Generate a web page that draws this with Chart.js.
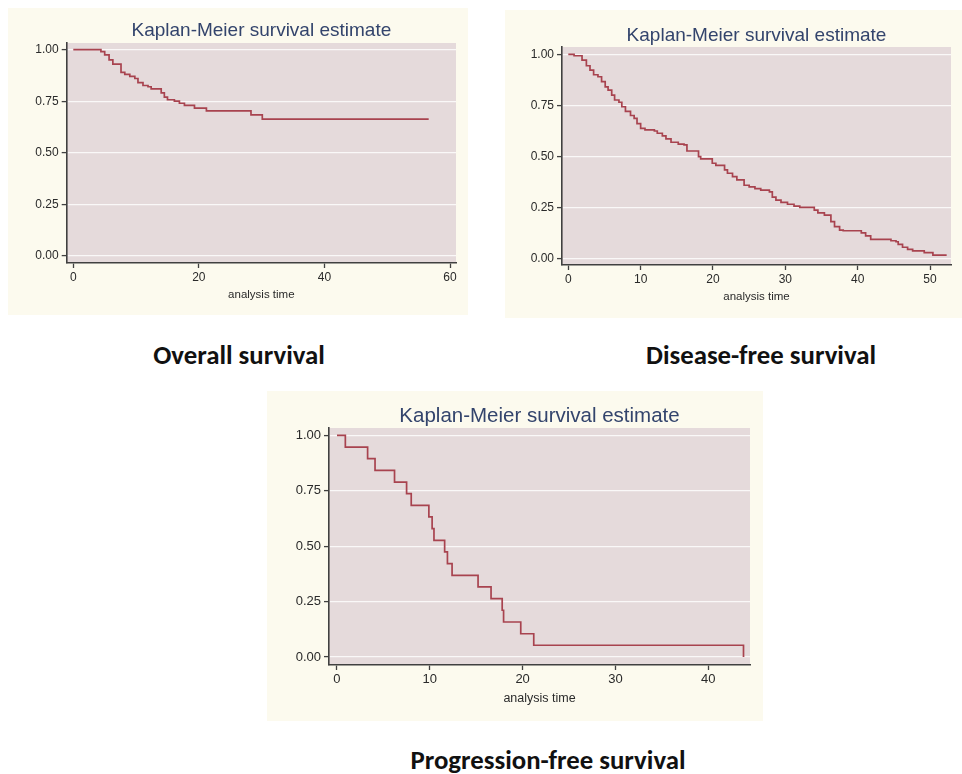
<!DOCTYPE html>
<html><head><meta charset="utf-8">
<script src="https://cdn.jsdelivr.net/npm/chart.js@4.4.1/dist/chart.umd.min.js"></script>
<style>
html,body{margin:0;padding:0;background:#ffffff;}
body{width:962px;height:774px;position:relative;overflow:hidden;}
.panel{position:absolute;background:#fcfaee;}
.panel canvas{display:block;}
.cap{position:absolute;font-family:Carlito,Lato,sans-serif;font-weight:bold;color:#111;white-space:nowrap;line-height:1;transform:translate(-50%,-50%);}
</style></head><body>
<div class="panel" style="left:8px;top:8px;width:460px;height:307px"><canvas id="c1" width="460" height="307"></canvas></div>
<div class="panel" style="left:505px;top:10px;width:457px;height:308px"><canvas id="c2" width="457" height="308"></canvas></div>
<div class="panel" style="left:267px;top:391px;width:496px;height:330px"><canvas id="c3" width="496" height="330"></canvas></div>
<div class="cap" id="cap1" style="left:239px;top:355px;font-size:26.8px"></div>
<div class="cap" id="cap2" style="left:761px;top:355px;font-size:26.8px"></div>
<div class="cap" id="cap3" style="left:548px;top:760px;font-size:26.8px"></div>
<script>
// ---- data ----
const chartTitle = 'Kaplan-Meier survival estimate';
const xAxisTitle = 'analysis time';
const captions = ['Overall survival', 'Disease-free survival', 'Progression-free survival'];
const yTicks = [0, 0.25, 0.5, 0.75, 1];
const osXTicks = [0, 20, 40, 60];
const dfsXTicks = [0, 10, 20, 30, 40, 50];
const pfsXTicks = [0, 10, 20, 30, 40];

const osTime = [0, 4.4, 5.0, 5.7, 6.3, 7.6, 8.2, 9.0, 9.8, 10.3, 11.1, 11.9, 12.4, 14.0, 14.5, 15.0, 16.1, 16.9, 17.7, 19.3, 21.2, 28.3, 30.1, 56.6];
const osSurv = [1.00, 0.99, 0.974, 0.95, 0.93, 0.89, 0.88, 0.87, 0.86, 0.84, 0.826, 0.82, 0.81, 0.79, 0.77, 0.757, 0.75, 0.74, 0.73, 0.716, 0.703, 0.684, 0.663, 0.663];

const dfsTime = [0, 0.8, 1.9, 2.5, 3.0, 3.5, 4.1, 4.6, 5.1, 5.5, 6.0, 6.4, 7.0, 7.4, 7.9, 8.6, 9.1, 9.5, 10.0, 10.6, 11.9, 12.3, 13.0, 13.5, 14.2, 15.2, 16.0, 16.4, 18.0, 18.3, 19.9, 20.4, 21.6, 22.0, 22.7, 23.3, 24.3, 25.0, 25.8, 26.6, 27.8, 28.2, 28.7, 29.4, 30.3, 31.2, 32.0, 34.0, 34.5, 35.4, 36.3, 36.8, 37.5, 38.0, 40.5, 41.1, 41.8, 44.6, 45.3, 45.6, 46.2, 46.9, 47.6, 49.2, 50.4, 52.3];
const dfsSurv = [1.00, 0.993, 0.972, 0.944, 0.923, 0.90, 0.89, 0.866, 0.84, 0.825, 0.80, 0.776, 0.765, 0.743, 0.72, 0.70, 0.686, 0.66, 0.637, 0.63, 0.624, 0.613, 0.60, 0.585, 0.569, 0.56, 0.556, 0.526, 0.498, 0.487, 0.466, 0.456, 0.433, 0.417, 0.40, 0.384, 0.358, 0.35, 0.342, 0.334, 0.326, 0.30, 0.285, 0.274, 0.265, 0.256, 0.25, 0.236, 0.223, 0.212, 0.18, 0.155, 0.138, 0.135, 0.125, 0.11, 0.093, 0.086, 0.081, 0.068, 0.054, 0.044, 0.036, 0.028, 0.015, 0.015];

const pfsTime = [0, 0.9, 3.3, 4.1, 6.2, 7.5, 8.0, 9.9, 10.25, 10.45, 11.6, 11.9, 12.4, 15.2, 16.6, 17.8, 17.95, 19.8, 21.2, 43.8];
const pfsSurv = [1.0, 0.947, 0.895, 0.842, 0.789, 0.737, 0.684, 0.632, 0.579, 0.526, 0.474, 0.421, 0.368, 0.316, 0.263, 0.211, 0.158, 0.105, 0.053, 0.0];

// ---- styles / geometry ----
const FONT = "'Liberation Sans', Arial, sans-serif";
const LINE = '#a8434f';
const AXIS = '#404040';
const TICKC = '#2a2a2a';
const TITLEC = '#33446c';
const GRID = 'rgba(255,255,255,0.8)';
const PLOTBG = '#e5dadb';

const bgPlugin = {
  id: 'plotbg',
  beforeDraw(chart) {
    const a = chart.chartArea, c = chart.ctx;
    c.save(); c.fillStyle = PLOTBG; c.fillRect(a.left, a.top, a.right - a.left, a.bottom - a.top); c.restore();
  }
};

function makeChart(id, times, surv, xTicks, g) {
  const tLH = g.titleSize * 1.2, xLH = g.xTitleSize * 1.2;
  return new Chart(document.getElementById(id), {
    type: 'line',
    data: { datasets: [{ data: times.map((t, i) => ({ x: t, y: surv[i] })), stepped: true, borderColor: LINE, borderWidth: 1.7, pointRadius: 0, fill: false, tension: 0 }] },
    options: {
      responsive: false, animation: false, events: [],
      layout: { padding: { left: 0, right: g.W - g.right, top: 0, bottom: 0 } },
      plugins: {
        legend: { display: false }, tooltip: { enabled: false },
        title: { display: true, text: chartTitle, fullSize: false, color: TITLEC,
          font: { family: FONT, size: g.titleSize, weight: 'normal', lineHeight: 1.2 },
          padding: { top: g.titleCenter - tLH / 2, bottom: g.top - g.titleCenter - tLH / 2 } }
      },
      scales: {
        x: { type: 'linear', min: g.xMin, max: g.xMax,
          afterBuildTicks: s => { s.ticks = xTicks.map(v => ({ value: v })); },
          afterFit: s => { s.height = g.H - g.bottom; },
          grid: { drawOnChartArea: false, drawTicks: true, tickLength: 5, tickColor: AXIS, tickWidth: 1.3 },
          border: { display: true, color: AXIS, width: 1.6 },
          ticks: { color: TICKC, font: { family: FONT, size: g.tickSize }, padding: 2, maxRotation: 0, autoSkip: false },
          title: { display: true, text: xAxisTitle, color: TICKC, font: { family: FONT, size: g.xTitleSize, lineHeight: 1.2 },
            padding: { top: 0, bottom: g.H - g.xTitleCenter - xLH / 2 } } },
        y: { type: 'linear', min: g.yMin, max: g.yMax,
          afterBuildTicks: s => { s.ticks = yTicks.map(v => ({ value: v })); },
          afterFit: s => { s.width = g.left; },
          grid: { color: GRID, lineWidth: 1.2, drawTicks: true, tickLength: 5, tickColor: AXIS, tickWidth: 1.3 },
          border: { display: true, color: AXIS, width: 1.6 },
          ticks: { color: TICKC, font: { family: FONT, size: g.tickSize }, padding: 3, autoSkip: false, callback: v => Number(v).toFixed(2) } }
      }
    },
    plugins: [bgPlugin]
  });
}

makeChart('c1', osTime, osSurv, osXTicks, { W: 460, H: 307, left: 58.7, right: 448, top: 35, bottom: 255,
  xMin: -1.05, xMax: 60.95, yMin: -0.034, yMax: 1.032, titleSize: 19, titleCenter: 23, tickSize: 12, xTitleSize: 11.5, xTitleCenter: 287 });
makeChart('c2', dfsTime, dfsSurv, dfsXTicks, { W: 457, H: 308, left: 57, right: 446, top: 37, bottom: 255,
  xMin: -0.87, xMax: 52.9, yMin: -0.033, yMax: 1.036, titleSize: 19, titleCenter: 26, tickSize: 12, xTitleSize: 11.5, xTitleCenter: 287 });
makeChart('c3', pfsTime, pfsSurv, pfsXTicks, { W: 496, H: 330, left: 62, right: 483, top: 37, bottom: 274,
  xMin: -0.86, xMax: 44.5, yMin: -0.036, yMax: 1.033, titleSize: 20.5, titleCenter: 25, tickSize: 13, xTitleSize: 12.5, xTitleCenter: 308 });

document.getElementById('cap1').textContent = captions[0];
document.getElementById('cap2').textContent = captions[1];
document.getElementById('cap3').textContent = captions[2];
</script>
</body></html>
